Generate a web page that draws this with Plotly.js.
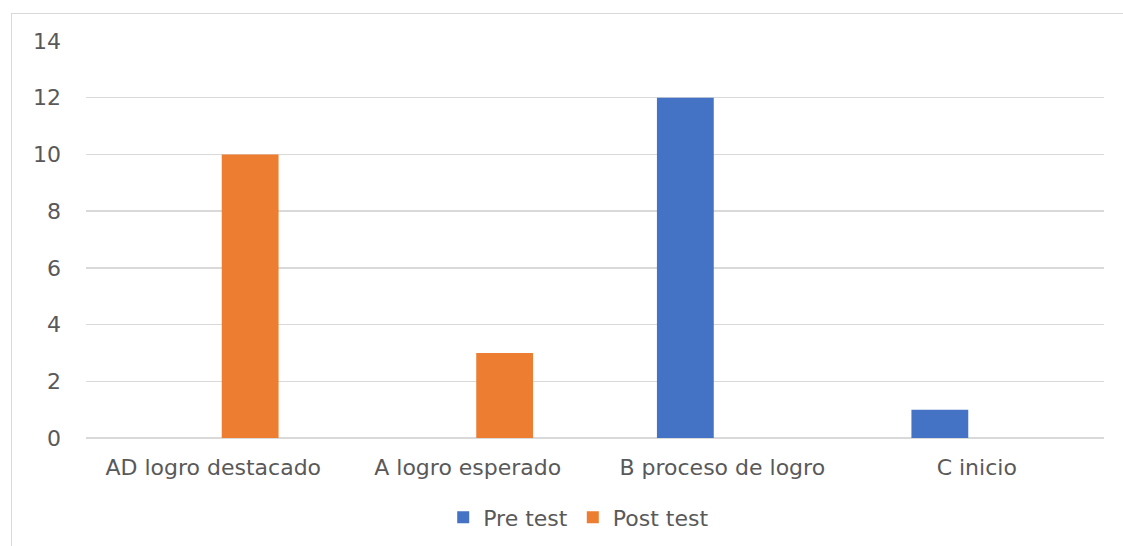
<!DOCTYPE html>
<html>
<head>
<meta charset="utf-8">
<script src="https://cdn.plot.ly/plotly-3.0.1.min.js"></script>
<style>
html,body{margin:0;padding:0;background:#fff;}
#wrap{position:relative;width:1123px;height:546px;overflow:hidden;}
#frame{position:absolute;left:11px;top:13px;width:1200px;height:600px;border-left:1.5px solid #d9d9d9;border-top:1.5px solid #d9d9d9;pointer-events:none;}
#chart{position:absolute;left:0;top:0;width:1123px;height:546px;}
</style>
</head>
<body>
<div id="wrap">
<div id="chart"></div>
<div id="frame"></div>
</div>
<script>
const categories = ["AD logro destacado", "A logro esperado", "B proceso de logro", "C inicio"];
const preTest = [0, 0, 12, 1];
const postTest = [10, 3, 0, 0];
const yTicks = [0, 2, 4, 6, 8, 10, 12, 14];

const font = {family: "DejaVu Sans, sans-serif", size: 22, color: "#595959"};

const data = [
  {type: "bar", name: "Pre test", x: categories, y: preTest, marker: {color: "#4472C4"}},
  {type: "bar", name: "Post test", x: categories, y: postTest, marker: {color: "#ED7D31"}}
];

const layout = {
  width: 1123, height: 546,
  margin: {l: 86, r: 19, t: 41, b: 108, autoexpand: false},
  paper_bgcolor: "rgba(0,0,0,0)", plot_bgcolor: "#fff",
  barmode: "group", bargap: 0.42, bargroupgap: 0.23,
  font: font,
  showlegend: true,
  legend: {orientation: "h", x: 0.484, xanchor: "center", y: -0.2, yanchor: "middle", font: font, itemwidth: 30, traceorder: "normal"},
  xaxis: {type: "category", showgrid: false, showline: false, zeroline: false, ticks: "", tickfont: font, ticklabelstandoff: 14, automargin: false},
  yaxis: {range: [0, 14], tickvals: yTicks, showgrid: true, gridcolor: "#d9d9d9", gridwidth: 1.5, zeroline: true, zerolinecolor: "#d9d9d9", zerolinewidth: 1.5, showline: false, ticks: "", tickfont: font, ticklabelstandoff: 24, automargin: false}
};

Plotly.newPlot("chart", data, layout, {staticPlot: true, displayModeBar: false});
</script>
</body>
</html>
